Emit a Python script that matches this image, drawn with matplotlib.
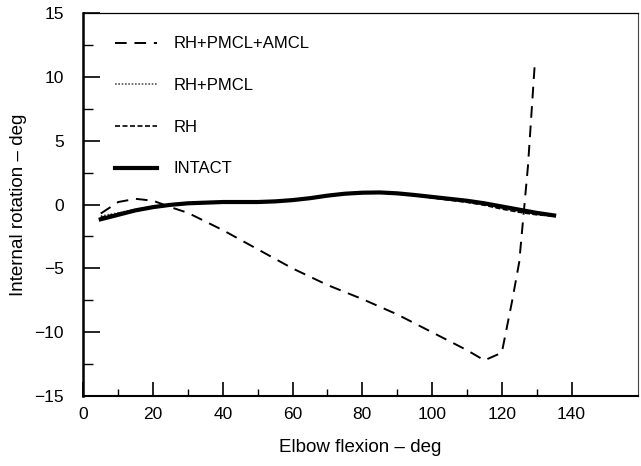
import matplotlib.pyplot as plt
from matplotlib.ticker import MultipleLocator, FixedLocator

plt.rcParams['font.family'] = ['Liberation Sans', 'DejaVu Sans']

# elbow flexion (deg) sample points
flex = [5, 10, 15, 20, 25, 30, 35, 40, 45, 50, 55, 60, 65, 70, 75, 80, 85,
        90, 95, 100, 105, 110, 115, 120, 125, 130, 135]

intact = [-1.15, -0.8, -0.45, -0.2, -0.02, 0.1, 0.15, 0.2, 0.2, 0.2, 0.25,
          0.35, 0.5, 0.7, 0.85, 0.93, 0.95, 0.88, 0.75, 0.6, 0.45, 0.3, 0.1,
          -0.15, -0.4, -0.65, -0.85]
rh = [-1.0, -0.7, -0.4, -0.18, -0.02, 0.08, 0.14, 0.18, 0.2, 0.2, 0.25,
      0.35, 0.5, 0.68, 0.83, 0.9, 0.92, 0.85, 0.7, 0.52, 0.35, 0.18, -0.05,
      -0.35, -0.6, -0.8, -0.9]
rh_pmcl = [-0.9, -0.65, -0.38, -0.17, -0.02, 0.08, 0.14, 0.18, 0.2, 0.2,
           0.25, 0.35, 0.5, 0.68, 0.83, 0.91, 0.93, 0.86, 0.72, 0.55, 0.38,
           0.2, 0.0, -0.3, -0.55, -0.75, -0.9]

# RH+PMCL+AMCL goes unstable past 120 deg
flex_amcl = [5, 10, 15, 20, 25, 30, 40, 50, 60, 70, 80, 90, 100, 110, 115,
             120, 123, 125, 127.5, 129.5]
amcl = [-0.7, 0.2, 0.45, 0.3, -0.2, -0.65, -2.0, -3.5, -5.0, -6.3, -7.4,
        -8.6, -10.0, -11.4, -12.2, -11.6, -7.5, -4.5, 3.0, 11.2]


def main():
    fig = plt.figure(figsize=(6.41, 4.66), dpi=100)
    ax = fig.add_axes([0.13, 0.15, 0.865, 0.822])

    ax.plot(flex_amcl, amcl, color="black", lw=1.4, dashes=(6, 4),
            label="RH+PMCL+AMCL")
    ax.plot(flex, rh_pmcl, color="#555555", lw=1.2, linestyle=(0, (1, 1)),
            label="RH+PMCL")
    ax.plot(flex, rh, color="black", lw=1.2, dashes=(3, 1.5), label="RH")
    ax.plot(flex, intact, color="black", lw=3.0, label="INTACT")

    ax.set_xlim(0, 159)
    ax.set_ylim(-15, 15)
    ax.xaxis.set_major_locator(FixedLocator(range(0, 141, 20)))
    ax.xaxis.set_minor_locator(FixedLocator(range(10, 131, 20)))
    ax.yaxis.set_major_locator(MultipleLocator(5))
    ax.yaxis.set_minor_locator(MultipleLocator(2.5))

    ax.tick_params(which="both", direction="in", top=False, right=False,
                   labelsize=12.5, color="black")
    ax.tick_params(axis="y", which="major", length=12, width=1.2, pad=14)
    ax.tick_params(axis="y", which="minor", length=7, width=1.0)
    ax.tick_params(axis="x", which="major", length=10, width=1.2, pad=8)
    ax.tick_params(axis="x", which="minor", length=5, width=1.0)

    ax.spines["left"].set_linewidth(1.8)
    ax.spines["bottom"].set_linewidth(1.5)
    ax.spines["top"].set_linewidth(0.9)
    ax.spines["right"].set_linewidth(0.8)
    ax.spines["right"].set_color("#444444")

    ax.set_xlabel("Elbow flexion – deg", fontsize=13.5, labelpad=12)
    ax.set_ylabel("Internal rotation – deg", fontsize=13.5, labelpad=5)

    ax.legend(loc="upper left", bbox_to_anchor=(0.03, 0.978), frameon=False,
              fontsize=12, handlelength=2.5, handletextpad=1.0,
              labelspacing=1.6)

    fig.savefig("out.png", dpi=100)
    plt.close(fig)


if __name__ == "__main__":
    main()
